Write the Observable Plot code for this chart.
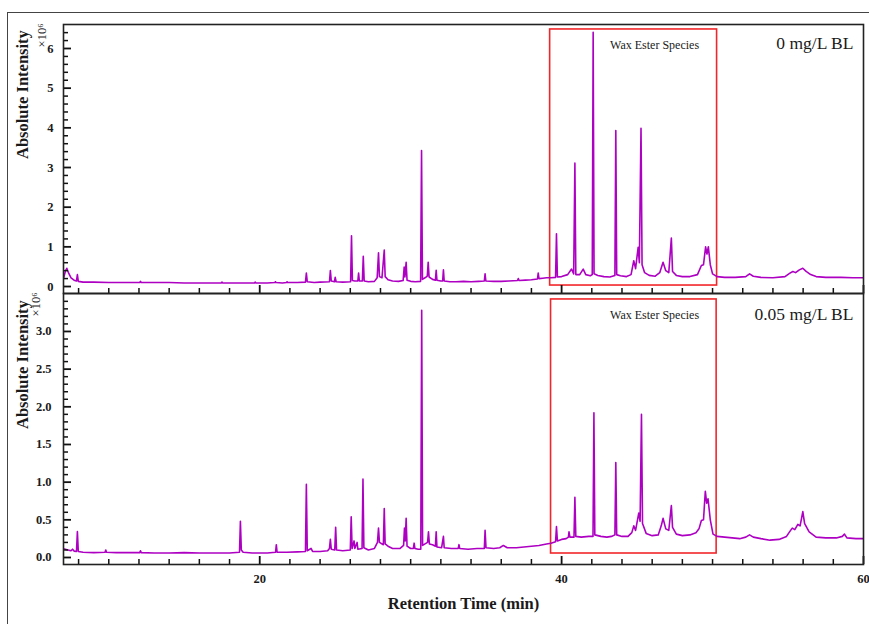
<!DOCTYPE html>
<html>
<head>
<meta charset="utf-8">
<script src="https://cdn.jsdelivr.net/npm/d3@7"></script>
<script src="https://cdn.jsdelivr.net/npm/@observablehq/plot@0.6"></script>
<style>
  html, body { margin: 0; padding: 0; background: #fff; overflow: hidden; }
  #fig { position: relative; width: 869px; height: 624px; overflow: hidden; }
  #border { position: absolute; left: 7px; top: 12px; width: 900px; height: 700px; border: 1px solid #444; box-sizing: border-box; }
  #fig svg { position: absolute; left: 0; }
</style>
</head>
<body>
<div id="fig"><div id="border"></div></div>
<script>
// ---- Data (intensity in units of 10^6) ----
const panelLabels = ["0 mg/L BL", "0.05 mg/L BL"];
const waxLabel = "Wax Ester Species";
const xAxisTitle = "Retention Time (min)";
const yAxisTitle = "Absolute Intensity";
const yExponent = "×10⁶";

const xDomain = [7, 60];
const xMajorTicks = [20, 40, 60];
const xMinorTicks = [8,10,12,14,16,18,22,24,26,28,30,32,34,36,38,42,44,46,48,50,52,54,56,58];

const yTicksTop = [0, 1, 2, 3, 4, 5, 6];
const yMinorTop = [0.2,0.4,0.6,0.8,1.2,1.4,1.6,1.8,2.2,2.4,2.6,2.8,3.2,3.4,3.6,3.8,4.2,4.4,4.6,4.8,5.2,5.4,5.6,5.8,6.2,6.4];
const yTicksBottom = [0, 0.5, 1, 1.5, 2, 2.5, 3];
const yMinorBottom = [0.1,0.2,0.3,0.4,0.6,0.7,0.8,0.9,1.1,1.2,1.3,1.4,1.6,1.7,1.8,1.9,2.1,2.2,2.3,2.4,2.6,2.7,2.8,2.9,3.1,3.2,3.3,3.4];
const yDomainTop = [-0.176, 6.605];
const yDomainBottom = [-0.093, 3.504];

// wax ester box: [x1, x2, y1, y2]
const waxBoxTop = [39.24, 50.3, 0.025, 6.48];
const waxBoxBottom = [39.3, 50.27, 0.053, 3.425];
const waxLabelX = 46.16;

// chromatogram, 0 mg/L BL: [retention time (min), intensity (x10^6)]
const trace0 = [
[7.0,0.20],[7.12,0.38],[7.22,0.46],[7.35,0.33],[7.5,0.22],[7.7,0.16],[7.86,0.14],[7.92,0.30],[7.98,0.13],
[8.3,0.11],[9,0.11],[10,0.10],[11,0.10],[12.05,0.10],[12.1,0.13],[12.15,0.10],[13,0.10],[14,0.10],[15,0.09],
[16,0.09],[17.45,0.09],[17.5,0.11],[17.55,0.09],[18.5,0.09],[19.65,0.09],[19.7,0.11],[19.75,0.09],[20.5,0.09],
[21.0,0.10],[21.04,0.12],[21.08,0.10],[21.5,0.09],[21.78,0.10],[21.81,0.12],[21.85,0.10],[22.5,0.10],
[23.03,0.11],[23.09,0.34],[23.15,0.12],[23.6,0.10],[24.0,0.11],[24.62,0.12],[24.68,0.40],[24.74,0.14],
[24.95,0.12],[25.0,0.23],[25.06,0.12],[25.5,0.11],[26.02,0.12],[26.08,1.28],[26.14,0.15],[26.3,0.14],[26.5,0.14],
[26.55,0.34],[26.6,0.14],[26.8,0.14],[26.86,0.76],[26.92,0.14],[27.2,0.12],[27.6,0.13],[27.78,0.22],[27.87,0.85],
[27.93,0.25],[28.1,0.22],[28.25,0.92],[28.31,0.25],[28.5,0.17],[28.8,0.14],[29.2,0.13],[29.5,0.15],[29.57,0.49],
[29.62,0.24],[29.70,0.61],[29.76,0.16],[30.0,0.13],[30.3,0.12],[30.66,0.13],[30.72,3.43],[30.78,0.18],[30.95,0.22],
[31.1,0.26],[31.16,0.61],[31.22,0.24],[31.45,0.18],[31.64,0.16],[31.69,0.41],[31.74,0.16],[32.0,0.14],[32.12,0.14],
[32.17,0.42],[32.22,0.14],[32.6,0.12],[33.0,0.12],[33.5,0.13],[34.0,0.12],[34.5,0.13],[34.88,0.14],[34.93,0.32],
[34.98,0.14],[35.5,0.13],[36.0,0.13],[36.5,0.14],[37.08,0.15],[37.13,0.20],[37.18,0.15],[37.6,0.16],[38.0,0.17],
[38.4,0.19],[38.45,0.34],[38.5,0.20],[38.75,0.21],[39.0,0.22],[39.3,0.22],[39.6,0.23],[39.66,1.33],[39.72,0.24],
[40.0,0.25],[40.4,0.30],[40.66,0.44],[40.8,0.32],[40.88,3.11],[40.94,0.30],[41.2,0.30],[41.43,0.44],[41.6,0.30],
[41.9,0.27],[42.03,0.30],[42.09,6.41],[42.15,0.32],[42.4,0.28],[42.8,0.25],[43.2,0.24],[43.53,0.28],[43.59,3.93],
[43.65,0.30],[43.9,0.27],[44.3,0.25],[44.6,0.30],[44.78,0.65],[44.9,0.45],[45.07,0.99],[45.15,0.60],[45.26,3.99],
[45.33,0.55],[45.5,0.35],[45.8,0.28],[46.2,0.26],[46.5,0.35],[46.72,0.61],[46.9,0.40],[47.1,0.35],[47.27,1.22],
[47.35,0.38],[47.6,0.28],[48.0,0.25],[48.5,0.25],[49.0,0.30],[49.26,0.53],[49.4,0.55],[49.54,1.0],[49.63,0.82],
[49.72,1.0],[49.85,0.55],[50.0,0.32],[50.3,0.25],[50.8,0.23],[51.5,0.23],[52.2,0.25],[52.45,0.32],[52.7,0.26],
[53.2,0.23],[54.0,0.22],[54.8,0.25],[55.1,0.33],[55.32,0.38],[55.5,0.35],[55.75,0.42],[55.98,0.46],[56.2,0.38],
[56.5,0.30],[56.86,0.25],[57.5,0.23],[58.5,0.23],[59.3,0.22],[60.0,0.22]
];

// chromatogram, 0.05 mg/L BL
const trace005 = [
[7.0,0.115],[7.3,0.10],[7.5,0.09],[7.6,0.11],[7.7,0.085],[7.86,0.08],[7.92,0.345],[7.98,0.08],[8.3,0.07],
[9.0,0.065],[9.75,0.07],[9.8,0.10],[9.85,0.07],[10.5,0.065],[11.5,0.065],[12.05,0.065],[12.1,0.09],[12.15,0.065],
[13,0.06],[14,0.06],[15,0.065],[16,0.06],[17,0.06],[18,0.06],[18.66,0.07],[18.72,0.48],[18.78,0.10],[18.9,0.07],
[19.5,0.06],[20.5,0.06],[21.05,0.07],[21.1,0.17],[21.15,0.07],[21.8,0.07],[22.5,0.075],[23.03,0.08],[23.09,0.97],
[23.15,0.09],[23.4,0.12],[23.5,0.08],[24.0,0.08],[24.5,0.09],[24.62,0.12],[24.68,0.24],[24.74,0.11],[24.97,0.10],
[25.03,0.40],[25.09,0.10],[25.5,0.09],[26.0,0.10],[26.06,0.54],[26.12,0.12],[26.25,0.22],[26.3,0.12],[26.45,0.20],
[26.5,0.11],[26.78,0.12],[26.84,1.04],[26.9,0.13],[27.2,0.10],[27.6,0.12],[27.8,0.20],[27.87,0.39],[27.93,0.20],
[28.19,0.17],[28.25,0.65],[28.31,0.18],[28.5,0.15],[28.8,0.12],[29.3,0.12],[29.53,0.16],[29.59,0.39],[29.64,0.22],
[29.70,0.52],[29.76,0.15],[30.0,0.12],[30.18,0.12],[30.23,0.19],[30.28,0.12],[30.5,0.11],[30.67,0.11],[30.73,3.28],
[30.79,0.16],[30.95,0.18],[31.12,0.20],[31.18,0.34],[31.24,0.18],[31.45,0.17],[31.64,0.15],[31.69,0.34],[31.74,0.14],
[32.05,0.13],[32.17,0.28],[32.22,0.13],[32.7,0.12],[33.15,0.12],[33.2,0.17],[33.25,0.12],[33.8,0.11],[34.4,0.12],
[34.88,0.12],[34.93,0.36],[34.99,0.13],[35.5,0.12],[35.9,0.13],[36.14,0.16],[36.4,0.13],[37.0,0.13],[37.5,0.14],
[38.0,0.15],[38.5,0.16],[39.0,0.18],[39.3,0.19],[39.6,0.21],[39.66,0.41],[39.72,0.22],[40.0,0.24],[40.3,0.25],
[40.45,0.27],[40.49,0.34],[40.55,0.27],[40.82,0.27],[40.88,0.80],[40.94,0.28],[41.3,0.27],[41.8,0.28],[42.08,0.28],
[42.14,1.92],[42.2,0.30],[42.6,0.28],[43.0,0.27],[43.3,0.28],[43.53,0.30],[43.59,1.26],[43.65,0.30],[44.0,0.28],
[44.4,0.28],[44.65,0.33],[44.78,0.42],[44.9,0.36],[45.11,0.59],[45.2,0.48],[45.29,1.90],[45.36,0.45],[45.6,0.32],
[46.0,0.29],[46.4,0.30],[46.6,0.42],[46.72,0.52],[46.9,0.38],[47.1,0.36],[47.27,0.69],[47.35,0.40],[47.6,0.31],
[48.0,0.29],[48.5,0.30],[48.9,0.33],[49.1,0.38],[49.26,0.49],[49.4,0.50],[49.52,0.88],[49.61,0.72],[49.70,0.78],
[49.85,0.50],[50.03,0.31],[50.3,0.28],[50.8,0.27],[51.3,0.26],[51.8,0.25],[52.2,0.27],[52.45,0.30],[52.7,0.27],
[53.2,0.25],[53.8,0.23],[54.4,0.24],[54.9,0.28],[55.1,0.34],[55.28,0.39],[55.45,0.37],[55.65,0.44],[55.8,0.42],
[55.98,0.61],[56.1,0.45],[56.4,0.34],[56.86,0.27],[57.5,0.26],[58.2,0.26],[58.6,0.28],[58.74,0.31],[58.9,0.26],
[59.5,0.25],[60.0,0.25]
];

// ---- Styling ----
const serif = "'Liberation Serif', 'Times New Roman', serif";
const lineColor = "#ad00c2";
const boxColor = "#f2262a";
const inkColor = "#1a1a1a";
const tickColor = "#111";
const W = 869, ML = 63, MR = 6;
const frameW = W - ML - MR;
const majorLen = 8, minorLen = 5;

function panel({trace, yDomain, yTicks, yMinor, yFmt, boxV, label, expDx, height, marginTop, marginBottom, showX, labelPad, waxDy, labelDy}) {
  const frameH = height - marginTop - marginBottom;
  const marks = [
    Plot.rect([boxV], {x1: d => d[0], x2: d => d[1], y1: d => d[2], y2: d => d[3], fill: "none", stroke: boxColor, strokeWidth: 1.6}),
    Plot.line(trace, {x: d => d[0], y: d => d[1], stroke: lineColor, strokeWidth: 1.6, clip: true}),
    // inward y ticks on the left edge
    Plot.tickY(yTicks, {y: d => d, insetRight: frameW - majorLen, stroke: tickColor, strokeWidth: 1.8}),
    Plot.tickY(yMinor, {y: d => d, insetRight: frameW - minorLen, stroke: tickColor, strokeWidth: 1.5}),
    // inward x ticks on the bottom edge
    Plot.tickX(xMajorTicks, {x: d => d, insetTop: frameH - majorLen, stroke: tickColor, strokeWidth: 1.8}),
    Plot.tickX(xMinorTicks, {x: d => d, insetTop: frameH - minorLen, stroke: tickColor, strokeWidth: 1.5}),
    Plot.frame({stroke: "#222", strokeWidth: 1.6}),
    Plot.axisY(yTicks, {anchor: "left", tickSize: 0, tickPadding: labelPad, tickFormat: yFmt, label: null,
      fontFamily: serif, fontWeight: "bold", fontSize: 12.5, fill: inkColor}),
    // y title and exponent
    Plot.text([yAxisTitle], {frameAnchor: "left", text: d => d, rotate: -90, dx: -41,
      fontFamily: serif, fontWeight: "bold", fontSize: 16.5, fill: inkColor}),
    Plot.text([yExponent], {frameAnchor: "top-left", text: d => d, rotate: -90, dx: expDx, dy: -1, textAnchor: "end",
      fontFamily: serif, fontSize: 12.5, fill: inkColor}),
    // annotations
    Plot.text([waxLabel], {x: waxLabelX, frameAnchor: "top", dy: waxDy, text: d => d,
      fontFamily: serif, fontSize: 12, fill: inkColor}),
    Plot.text([label], {frameAnchor: "top-right", dx: -10, dy: labelDy, textAnchor: "end", text: d => d,
      fontFamily: serif, fontSize: 17.5, fill: inkColor})
  ];
  if (showX) {
    marks.push(
      Plot.axisX(xMajorTicks, {anchor: "bottom", tickSize: 0, tickPadding: 10, label: null,
        fontFamily: serif, fontWeight: "bold", fontSize: 12.5, fill: inkColor}),
      Plot.text([xAxisTitle], {frameAnchor: "bottom", text: d => d, dy: 44,
        fontFamily: serif, fontWeight: "bold", fontSize: 16.5, fill: inkColor})
    );
  } else {
    marks.push(Plot.axisX({ticks: [], label: null, tickSize: 0}));
  }
  return Plot.plot({
    width: W, height,
    marginLeft: ML, marginRight: MR, marginTop, marginBottom,
    x: {domain: xDomain},
    y: {domain: yDomain},
    style: {background: "transparent", color: inkColor, overflow: "visible"},
    marks
  });
}

const topChart = panel({
  trace: trace0, yDomain: yDomainTop, yTicks: yTicksTop, yMinor: yMinorTop,
  yFmt: d3.format("d"), boxV: waxBoxTop, label: panelLabels[0], expDx: -26,
  height: 300, marginTop: 24, marginBottom: 7, showX: false, labelPad: 10, waxDy: 16, labelDy: 12
});
const bottomChart = panel({
  trace: trace005, yDomain: yDomainBottom, yTicks: yTicksBottom, yMinor: yMinorBottom,
  yFmt: d3.format(".1f"), boxV: waxBoxBottom, label: panelLabels[1], expDx: -32,
  height: 341, marginTop: 10, marginBottom: 60, showX: true, labelPad: 12, waxDy: 17, labelDy: 14
});
topChart.style.top = "0px";
bottomChart.style.top = "283px";
const fig = document.getElementById("fig");
fig.appendChild(topChart);
fig.appendChild(bottomChart);
</script>
</body>
</html>
